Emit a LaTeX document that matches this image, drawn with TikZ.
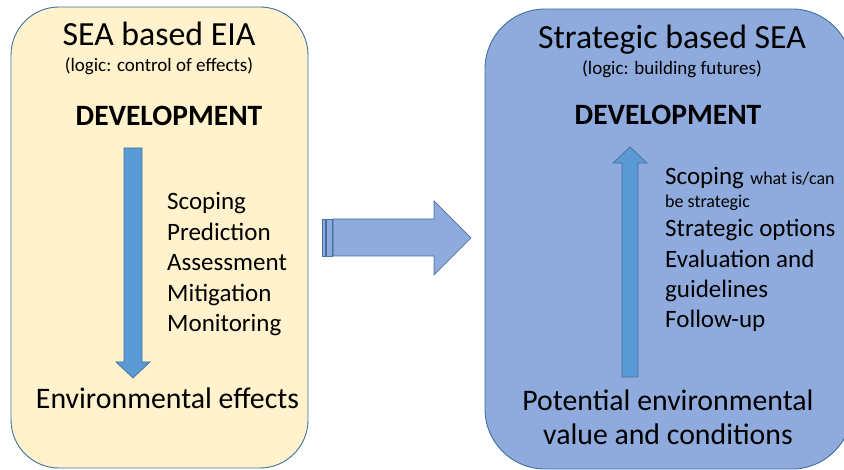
\documentclass[tikz,border=0pt]{standalone}
\usepackage{fontspec}
\setmainfont{Carlito}
\definecolor{boxline}{HTML}{41719C}
\definecolor{paleyellow}{HTML}{FFF2CC}
\definecolor{paleblue}{HTML}{8FAADC}
\definecolor{arrowblue}{HTML}{5B9BD5}
\tikzset{
    panel/.style={draw=boxline, line width=0.9pt},
    title/.style={anchor=base, inner sep=0pt, font=\fontsize{33.8}{40}\selectfont},
    logic/.style={anchor=base, inner sep=0pt, font=\fontsize{19}{23}\selectfont},
    devel/.style={anchor=base, inner sep=0pt, font=\fontsize{29.5}{35}\selectfont\bfseries},
    stage/.style={anchor=base west, inner sep=0pt, font=\fontsize{25}{30}\selectfont},
    note/.style={anchor=base west, inner sep=0pt, font=\fontsize{18}{21}\selectfont},
    result/.style={anchor=base, inner sep=0pt, font=\fontsize{29.8}{36}\selectfont},
    blockarrow/.style={draw=boxline, line width=0.7pt, line join=miter},
}
\begin{document}
\begin{tikzpicture}[x=1pt, y=-1pt]
        \useasboundingbox (0, 0) rectangle (844, 470);

        % the two panels
        \draw [panel, fill=paleyellow, rounded corners=48pt] (11, 7) rectangle (308, 468);
        \draw [panel, fill=paleblue, rounded corners=60pt] (485, 9) rectangle (852, 469);

        % left panel
        \node [title] (eiatitle) at (159, 46) {SEA based EIA};
        \node [logic] (eialogic) at (159, 72) {(logic: control of effects)};
        \node [devel] (eiadev) at (169, 126) {DEVELOPMENT};

        \draw [blockarrow, fill=arrowblue] (124, 148) -- (142, 148) -- (142, 362) -- (150, 362)
            -- (133, 378) -- (116, 362) -- (124, 362) -- cycle;

        \node [stage] (scoping) at (167, 210) {Scoping};
        \node [stage] (prediction) at (167, 240.5) {Prediction};
        \node [stage] (assessment) at (167, 271) {Assessment};
        \node [stage] (mitigation) at (167, 301.5) {Mitigation};
        \node [stage] (monitoring) at (167, 332) {Monitoring};

        \node [result] (effects) at (167.5, 409) {Environmental effects};

        % arrow between the panels
        \draw [blockarrow, fill=paleblue] (322.3, 219) rectangle (325.3, 256);
        \draw [blockarrow, fill=paleblue] (326.7, 219) rectangle (332, 256);
        \draw [blockarrow, fill=paleblue] (333.3, 219) -- (434, 219) -- (434, 201) -- (471, 238)
            -- (434, 275) -- (434, 256) -- (333.3, 256) -- cycle;

        % right panel
        \node [title] (seatitle) at (672, 49) {Strategic based SEA};
        \node [logic] (sealogic) at (672, 75) {(logic: building futures)};
        \node [devel] (seadev) at (668, 125) {DEVELOPMENT};

        \draw [blockarrow, fill=arrowblue] (622, 377) -- (638, 377) -- (638, 163) -- (647, 163)
            -- (630, 147) -- (613, 163) -- (622, 163) -- cycle;

        \node [stage] (seascoping) at (665, 185) {Scoping};
        \node [note] (whatis) at ([xshift=6pt]seascoping.base east) {what is/can};
        \node [note] (bestrat) at (665, 208) {be strategic};
        \node [stage] (options) at (665, 237) {Strategic options};
        \node [stage] (evaluation) at (665, 267.5) {Evaluation and};
        \node [stage] (guidelines) at (665, 297.5) {guidelines};
        \node [stage] (followup) at (665, 328) {Follow-up};

        \node [result] (potential) at (668, 410) {Potential environmental};
        \node [result] (conditions) at (668, 445) {value and conditions};

    \end{tikzpicture}
\end{document}
